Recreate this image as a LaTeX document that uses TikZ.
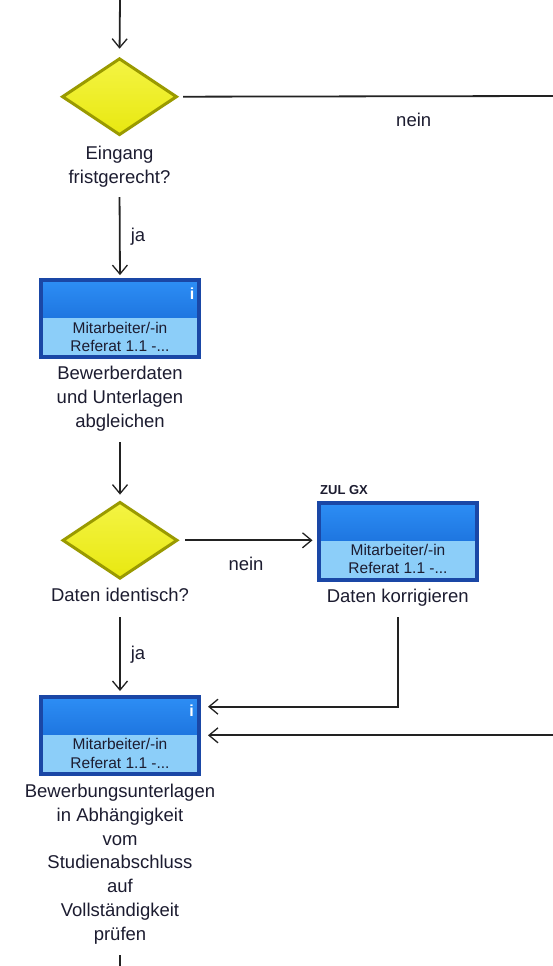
\documentclass[tikz,border=0pt]{standalone}
\usepackage{fontspec}
\setmainfont{Liberation Sans}
\usetikzlibrary{shapes.geometric,arrows.meta,calc}

\definecolor{lineGray}{HTML}{222222}
\definecolor{decFill}{HTML}{F4F444}
\definecolor{decFillB}{HTML}{E8E810}
\definecolor{decEdge}{HTML}{9A9A00}
\definecolor{actEdge}{HTML}{1A47A6}
\definecolor{actTop}{HTML}{2D8EF5}
\definecolor{actBot}{HTML}{0F5DCB}
\definecolor{actLow}{HTML}{8CCEF9}
\definecolor{txt}{HTML}{1C1C30}

\tikzset{
  flow/.style={draw=lineGray, line width=1.8pt,
    -{Straight Barb[length=9pt,width=15pt,line width=1.3pt]}},
  plainline/.style={draw=lineGray, line width=1.8pt},
  decision/.style={diamond, draw=decEdge, line width=3pt, inner sep=0pt,
    minimum width=115pt, minimum height=77pt,
    top color=decFill, bottom color=decFillB},
  activity/.style={rectangle, draw=actEdge, line width=3.6pt, inner sep=0pt,
    minimum width=157.8pt, minimum height=77pt,
    path picture={
      \fill[top color=actTop, bottom color=actBot]
        (path picture bounding box.north west) rectangle
        ([yshift=-38pt]path picture bounding box.north east);
      \fill[actLow]
        ([yshift=-38pt]path picture bounding box.north west) rectangle
        (path picture bounding box.south east);
    }},
  caption/.style={font=\fontsize{18.5}{23.8}\selectfont, text=txt,
    align=center, inner sep=0pt, anchor=north, text depth=5pt},
  lanetext/.style={font=\fontsize{15.5}{18.4}\selectfont, text=txt,
    align=center, inner sep=0pt, anchor=north},
  edgelabel/.style={font=\fontsize{18.5}{22}\selectfont, text=txt,
    inner sep=0pt, anchor=base},
  infomark/.style={font=\fontsize{16}{18}\selectfont\bfseries, text=white,
    inner sep=0pt},
  tagtext/.style={font=\fontsize{13}{15}\selectfont\bfseries, text=txt, inner sep=0pt},
}

\newcommand{\firstline}[1]{\rule{0pt}{#1}}

\begin{document}
\begin{tikzpicture}[x=1pt, y=-1pt]
  \useasboundingbox (0,0) rectangle (553,966);
  \fill[white] (0,0) rectangle (553,966);

  % open ends of the flow outside the page
  \coordinate (entry) at (120,0);
  \coordinate (exitR) at (553,96);
  \coordinate (backR) at (553,735.3);
  \coordinate (exitB) at (120,966);

  % decisions
  \node[decision] (d1) at (119.5,96.7) {};
  \node[caption] (d1lbl) at (119.5,145.3) {\firstline{14pt}Eingang\\fristgerecht?};

  \node[decision] (d2) at (120,540.3) {};
  \node[caption] (d2lbl) at (120,587.7) {\firstline{14pt}Daten identisch?};

  % activities
  \node[activity] (b1) at (120,318.7) {};
  \node[lanetext] (b1txt) at (120,321.3) {\firstline{12pt}Mitarbeiter/-in\\Referat 1.1 -...};
  \node[infomark] (b1i) at (192,294) {i};
  \node[caption] (b1lbl) at (120,365.6) {\firstline{14pt}Bewerberdaten\\und Unterlagen\\abgleichen};

  \node[activity] (b2) at (397.8,541.2) {};
  \node[lanetext] (b2txt) at (398,543) {\firstline{12pt}Mitarbeiter/-in\\Referat 1.1 -...};
  \node[tagtext] (b2tag) at (344,490) {ZUL GX};
  \node[caption] (b2lbl) at (397.8,588.3) {\firstline{14pt}Daten korrigieren};

  \node[activity] (b3) at (120,735.3) {};
  \node[lanetext] (b3txt) at (120,737.5) {\firstline{12pt}Mitarbeiter/-in\\Referat 1.1 -...};
  \node[infomark] (b3i) at (191.7,710.5) {i};
  \node[caption] (b3lbl) at (120,783.3) {\firstline{14pt}Bewerbungsunterlagen\\in Abh\"angigkeit\\vom\\Studienabschluss\\auf\\Vollst\"andigkeit\\pr\"ufen};

  % connectors
  \draw[flow, shorten >=8pt] (entry) -- (d1.north);
  \draw[plainline, shorten <=4.7pt] (d1.east) -- (exitR);
  \node[edgelabel] (nein1) at (413.7,126.5) {nein};

  \draw[flow, shorten <=8.7pt, shorten >=3.3pt] (d1lbl.south) -- (b1.north);
  \node[edgelabel] (ja1) at (138,241) {ja};

  \draw[flow, shorten <=9.8pt, shorten >=5.7pt] (b1lbl.south) -- (d2.north);

  \draw[flow, shorten <=6pt, shorten >=4.6pt] (d2.east) -- (d2.east -| b2.west);
  \node[edgelabel] (nein2) at (246,570.5) {nein};

  \draw[flow, shorten <=10.3pt, shorten >=4pt] (d2lbl.south) -- (b3.north);
  \node[edgelabel] (ja2) at (138,659) {ja};

  \draw[flow, shorten <=9.4pt, shorten >=7.3pt] (b2lbl.south) |- ([yshift=28.6pt]b3.east);
  \draw[flow, shorten >=7.3pt] (backR) -- (b3.east);

  \draw[plainline, shorten <=9.9pt] (b3lbl.south) -- (exitB);
\end{tikzpicture}
\end{document}
